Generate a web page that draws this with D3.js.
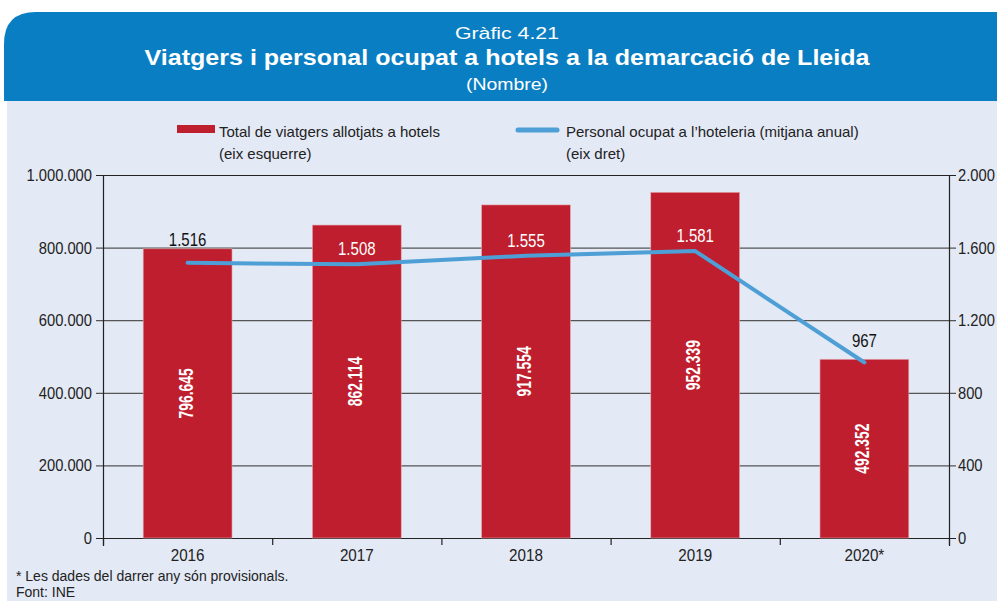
<!DOCTYPE html>
<html>
<head>
<meta charset="utf-8">
<script src="https://cdn.jsdelivr.net/npm/d3@7"></script>
<style>
  body { margin: 0; background: #fff; }
  svg { display: block; font-family: "Liberation Sans", Arial, sans-serif; }
</style>
</head>
<body>
<div id="chart"></div>
<script>
// data
const years = ["2016", "2017", "2018", "2019", "2020*"];
const travellers = [796645, 862114, 917554, 952339, 492352];
const staff = [1516, 1508, 1555, 1581, 967];
const leftTicks = [0, 200000, 400000, 600000, 800000, 1000000];
const rightTicks = [0, 400, 800, 1200, 1600, 2000];

const width = 997, height = 603;
const margin = { top: 175, right: 48, bottom: 65, left: 103 };

const locale = d3.formatLocale({ decimal: ",", thousands: ".", grouping: [3], currency: ["", "€"] });
const fmt = locale.format(",d");

// squeeze text horizontally to mimic the condensed typeface of the original
function condense(sel, k) {
  sel.each(function () {
    const w = this.getComputedTextLength();
    d3.select(this).attr("textLength", w * k).attr("lengthAdjust", "spacingAndGlyphs");
  });
}

const svg = d3.select("#chart")
  .append("svg")
  .attr("width", width)
  .attr("height", height);

// background panels
svg.append("rect")
  .attr("x", 7).attr("y", 90)
  .attr("width", width - 7).attr("height", 511)
  .attr("fill", "#e3e9f5");

svg.append("path")
  .attr("d", "M4,101 L4,44 Q4,12 36,12 L997,12 L997,101 Z")
  .attr("fill", "#0a7ec2");

svg.append("text")
  .attr("x", 507).attr("y", 39)
  .attr("text-anchor", "middle")
  .attr("fill", "#fff")
  .style("font-size", "17px")
  .attr("textLength", 104)
  .attr("lengthAdjust", "spacingAndGlyphs")
  .text("Gràfic 4.21");

svg.append("text")
  .attr("x", 507).attr("y", 65)
  .attr("text-anchor", "middle")
  .attr("fill", "#fff")
  .style("font-size", "22px")
  .style("font-weight", "bold")
  .attr("textLength", 725)
  .attr("lengthAdjust", "spacingAndGlyphs")
  .text("Viatgers i personal ocupat a hotels a la demarcació de Lleida");

svg.append("text")
  .attr("x", 507).attr("y", 90)
  .attr("text-anchor", "middle")
  .attr("fill", "#fff")
  .style("font-size", "17px")
  .attr("textLength", 82)
  .attr("lengthAdjust", "spacingAndGlyphs")
  .text("(Nombre)");

// legend
const legend = svg.append("g").style("font-size", "15px").attr("fill", "#222");
legend.append("rect")
  .attr("x", 177).attr("y", 125)
  .attr("width", 38).attr("height", 8)
  .attr("fill", "#be1e2d");
legend.append("text").attr("x", 219).attr("y", 137).text("Total de viatgers allotjats a hotels");
legend.append("text").attr("x", 219).attr("y", 159).text("(eix esquerre)");
legend.append("line")
  .attr("x1", 518).attr("x2", 557)
  .attr("y1", 130).attr("y2", 130)
  .attr("stroke", "#4e9fd6")
  .attr("stroke-width", 5)
  .attr("stroke-linecap", "round");
legend.append("text").attr("x", 566).attr("y", 137).text("Personal ocupat a l\u2019hoteleria (mitjana anual)");
legend.append("text").attr("x", 566).attr("y", 159).text("(eix dret)");

// scales
const x = d3.scaleBand()
  .domain(years)
  .range([margin.left, width - margin.right])
  .paddingInner(0.475)
  .paddingOuter(0.2375);

const xTicks = d3.scalePoint()
  .domain(d3.range(years.length + 1))
  .range([margin.left, width - margin.right]);

const yL = d3.scaleLinear()
  .domain([0, 1000000])
  .range([height - margin.bottom, margin.top]);

const yR = d3.scaleLinear()
  .domain([0, 2000])
  .range([height - margin.bottom, margin.top]);

// gridlines
svg.append("g")
  .selectAll("line")
  .data(leftTicks)
  .join("line")
  .attr("x1", margin.left - 7)
  .attr("x2", width - margin.right + 7)
  .attr("y1", d => yL(d) + 0.5)
  .attr("y2", d => yL(d) + 0.5)
  .attr("stroke", d => d === 0 || d === 1000000 ? "#222" : "#555")
  .attr("stroke-width", 1.2);

// bars
svg.append("g")
  .selectAll("rect")
  .data(years)
  .join("rect")
  .attr("x", d => x(d))
  .attr("y", (d, i) => yL(travellers[i]))
  .attr("width", x.bandwidth())
  .attr("height", (d, i) => yL(0) - yL(travellers[i]))
  .attr("fill", "#be1e2d")
  .attr("stroke", "#e6a9b0")
  .attr("stroke-width", 0.6);

// bar labels (rotated)
svg.append("g")
  .selectAll("text")
  .data(years)
  .join("text")
  .attr("transform", (d, i) => {
    const cx = x(d) + x.bandwidth() / 2;
    const cy = (yL(travellers[i]) + yL(0)) / 2;
    return `translate(${cx + 5},${cy}) rotate(-90)`;
  })
  .attr("text-anchor", "middle")
  .attr("fill", "#fff")
  .style("font-size", "21px")
  .style("font-weight", "bold")
  .text((d, i) => fmt(travellers[i]))
  .call(condense, 0.66);

// axes lines
const axisG = svg.append("g").attr("stroke", "#222").attr("stroke-width", 1.2);
axisG.append("line")
  .attr("x1", margin.left + 0.5).attr("x2", margin.left + 0.5)
  .attr("y1", margin.top).attr("y2", yL(0) + 8);
axisG.append("line")
  .attr("x1", width - margin.right + 0.5).attr("x2", width - margin.right + 0.5)
  .attr("y1", margin.top).attr("y2", yL(0) + 8);
axisG.selectAll(".xt")
  .data(d3.range(years.length + 1))
  .join("line")
  .attr("class", "xt")
  .attr("x1", d => xTicks(d) + 0.5)
  .attr("x2", d => xTicks(d) + 0.5)
  .attr("y1", yL(0))
  .attr("y2", yL(0) + 7);

// tick labels
const tickStyle = g => g.style("font-size", "16px").attr("fill", "#222");

svg.append("g").call(tickStyle)
  .selectAll("text")
  .data(leftTicks)
  .join("text")
  .attr("x", margin.left - 11)
  .attr("y", d => yL(d) + 6)
  .attr("text-anchor", "end")
  .text(d => fmt(d))
  .call(condense, 0.92);

svg.append("g").call(tickStyle)
  .selectAll("text")
  .data(rightTicks)
  .join("text")
  .attr("x", width - margin.right + 9)
  .attr("y", d => yR(d) + 6)
  .text(d => fmt(d))
  .call(condense, 0.92);

svg.append("g").call(tickStyle)
  .selectAll("text")
  .data(years)
  .join("text")
  .attr("x", d => x(d) + x.bandwidth() / 2)
  .attr("y", yL(0) + 23)
  .attr("text-anchor", "middle")
  .text(d => d)
  .call(condense, 0.95);

// staff line
const line = d3.line()
  .x((d, i) => x(years[i]) + x.bandwidth() / 2)
  .y(d => yR(d));

svg.append("path")
  .datum(staff)
  .attr("d", line)
  .attr("fill", "none")
  .attr("stroke", "#4e9fd6")
  .attr("stroke-width", 4)
  .attr("stroke-linejoin", "round")
  .attr("stroke-linecap", "round");

// staff labels: white inside bar, dark above it
svg.append("g")
  .selectAll("text")
  .data(staff)
  .join("text")
  .each(function (d, i) {
    const py = yR(d);
    const barTop = yL(travellers[i]);
    const inside = py - 9 - 15 > barTop;
    d3.select(this)
      .attr("x", x(years[i]) + x.bandwidth() / 2)
      .attr("y", inside ? py - 9 : Math.min(py - 15, barTop - 3))
      .attr("fill", inside ? "#fff" : "#111");
  })
  .attr("text-anchor", "middle")
  .style("font-size", "19px")
  .text(d => fmt(d))
  .call(condense, 0.79);

// notes
svg.append("text")
  .attr("x", 16).attr("y", 581)
  .attr("fill", "#222")
  .style("font-size", "14px")
  .text("* Les dades del darrer any són provisionals.")
  .call(condense, 1.0);
svg.append("text")
  .attr("x", 16).attr("y", 597)
  .attr("fill", "#222")
  .style("font-size", "14px")
  .text("Font: INE");
</script>
</body>
</html>
